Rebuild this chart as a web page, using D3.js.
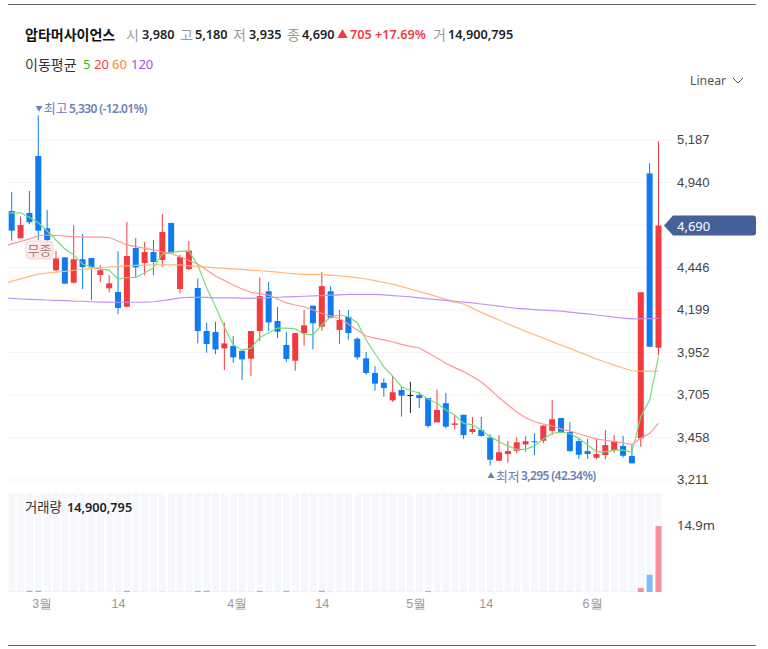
<!DOCTYPE html>
<html lang="ko">
<head>
<meta charset="utf-8">
<script src="https://cdn.jsdelivr.net/npm/d3@7"></script>
<style>
  body { margin: 0; background: #fff; }
  svg { display: block; font-family: "Noto Sans", "Noto Sans CJK KR", sans-serif; }
</style>
</head>
<body>
<div class="board"></div>
<script>
const opens = [
  4774, 4616, 4763, 5094, 4674, 4430, 4505, 4358, 4494, 4501,
  4402, 4325, 4304, 4218, 4559, 4472, 4536, 4490, 4705, 4321,
  4437, 4327, 4077, 4071, 3976, 3990, 3962, 3916, 4077, 4308,
  4135, 3996, 3904, 4064, 4224, 4102, 4308, 4083, 4160, 4032,
  3918, 3833, 3776, 3674, 3734, 3705, 3705, 3687, 3546, 3657,
  3531, 3590, 3490, 3502, 3457, 3323, 3362, 3381, 3418, 3436,
  3439, 3497, 3571, 3490, 3437, 3379, 3340, 3356, 3385, 3409,
  3350, 3453, 4993, 3980
]
const highs = [
  4885, 4741, 4891, 5330, 4780, 4542, 4505, 4691, 4641, 4501,
  4460, 4402, 4540, 4710, 4617, 4594, 4606, 4757, 4705, 4519,
  4600, 4383, 4125, 4131, 4125, 4048, 3962, 4077, 4389, 4362,
  4216, 4071, 4065, 4199, 4224, 4420, 4338, 4199, 4199, 4040,
  3955, 3872, 3802, 3815, 3753, 3782, 3724, 3687, 3736, 3717,
  3590, 3590, 3577, 3577, 3477, 3472, 3437, 3459, 3465, 3482,
  3527, 3676, 3571, 3546, 3451, 3451, 3453, 3502, 3472, 3468,
  3414, 4302, 5052, 5180
]
const lows = [
  4602, 4616, 4697, 4606, 4577, 4422, 4352, 4352, 4321, 4257,
  4362, 4302, 4176, 4218, 4391, 4401, 4401, 4451, 4529, 4296,
  4431, 4005, 3951, 3942, 3850, 3893, 3792, 3815, 4019, 4077,
  4036, 3898, 3846, 3992, 3970, 4079, 4151, 4001, 4026, 3910,
  3823, 3730, 3695, 3664, 3579, 3600, 3629, 3515, 3546, 3511,
  3506, 3449, 3480, 3463, 3295, 3323, 3311, 3366, 3375, 3356,
  3424, 3472, 3486, 3375, 3333, 3333, 3331, 3331, 3370, 3341,
  3308, 3404, 3985, 3935
]
const closes = [
  4660, 4693, 4709, 4660, 4606, 4499, 4352, 4494, 4449, 4447,
  4430, 4354, 4211, 4513, 4447, 4536, 4478, 4652, 4529, 4507,
  4544, 4077, 4001, 3970, 4005, 3924, 3912, 4077, 4280, 4127,
  4073, 3914, 4065, 4110, 4122, 4338, 4154, 4141, 4065, 3924,
  3833, 3771, 3746, 3721, 3701, 3705, 3687, 3525, 3618, 3521,
  3540, 3472, 3507, 3467, 3329, 3372, 3379, 3430, 3436, 3430,
  3527, 3564, 3486, 3379, 3358, 3362, 3362, 3414, 3437, 3352,
  3308, 4302, 3985, 4690
]

// first value of each average sits one day before the first candle, under the left clip
const ma5 = [
  4760, 4763, 4764, 4738, 4706, 4658, 4606, 4554, 4519, 4466,
  4449, 4437, 4431, 4379, 4387, 4389, 4414, 4445, 4524, 4534,
  4540, 4542, 4461, 4327, 4219, 4100, 3996, 3967, 3976, 4040,
  4067, 4094, 4094, 4090, 4058, 4055, 4112, 4160, 4170, 4160,
  4125, 4025, 3946, 3868, 3815, 3753, 3731, 3717, 3682, 3657,
  3618, 3589, 3540, 3531, 3502, 3463, 3434, 3409, 3389, 3389,
  3409, 3449, 3482, 3490, 3481, 3453, 3414, 3375, 3375, 3385,
  3385, 3372, 3579, 3676, 3928
]
const ma20 = [
  4568, 4583, 4597, 4612, 4629, 4635, 4632, 4629, 4625, 4624,
  4623, 4622, 4620, 4600, 4577, 4567, 4557, 4548, 4536, 4527,
  4507, 4487, 4466, 4431, 4397, 4370, 4344, 4321, 4302, 4294,
  4286, 4263, 4240, 4228, 4218, 4199, 4180, 4164, 4150, 4118,
  4083, 4048, 4036, 4025, 4013, 3999, 3988, 3978, 3949, 3920,
  3889, 3864, 3841, 3812, 3780, 3737, 3690, 3647, 3606, 3573,
  3551, 3536, 3525, 3508, 3496, 3480, 3464, 3449, 3442, 3434,
  3426, 3418, 3453, 3482, 3540
]
const ma60 = [
  4347, 4366, 4380, 4394, 4407, 4414, 4419, 4424, 4430, 4436,
  4441, 4446, 4449, 4453, 4456, 4458, 4459, 4461, 4461, 4461,
  4461, 4456, 4452, 4448, 4444, 4441, 4438, 4435, 4431, 4427,
  4423, 4419, 4414, 4409, 4406, 4406, 4406, 4402, 4398, 4393,
  4386, 4379, 4370, 4359, 4349, 4335, 4321, 4306, 4293, 4277,
  4261, 4245, 4234, 4210, 4185, 4162, 4141, 4118, 4097, 4075,
  4055, 4036, 4015, 3994, 3976, 3955, 3935, 3914, 3897, 3879,
  3862, 3846, 3844, 3844, 3843
]
const ma120 = [
  4269, 4266, 4263, 4261, 4259, 4257, 4255, 4254, 4251, 4250,
  4247, 4245, 4245, 4244, 4244, 4244, 4245, 4247, 4254, 4261,
  4269, 4273, 4272, 4272, 4270, 4270, 4269, 4268, 4267, 4269,
  4271, 4273, 4275, 4277, 4279, 4281, 4282, 4285, 4287, 4290,
  4290, 4290, 4290, 4287, 4283, 4279, 4275, 4269, 4264, 4259,
  4255, 4250, 4245, 4240, 4234, 4228, 4221, 4215, 4209, 4205,
  4201, 4198, 4195, 4193, 4187, 4181, 4176, 4170, 4164, 4158,
  4152, 4147, 4148, 4149, 4151
]

const volumes = [
  32000, 28000, 270000, 290000, 41000, 26000, 30000, 38000, 24000, 27000,
  22000, 19000, 35000, 260000, 44000, 26000, 21000, 48000, 37000, 33000,
  29000, 270000, 265000, 36000, 31000, 27000, 33000, 42000, 255000, 47000,
  30000, 260000, 39000, 26000, 29000, 280000, 46000, 31000, 28000, 34000,
  36000, 29000, 24000, 27000, 22000, 25000, 20000, 250000, 30000, 33000,
  21000, 31000, 20000, 23000, 38000, 27000, 19000, 22000, 18000, 20000,
  29000, 41000, 30000, 34000, 25000, 17000, 19000, 26000, 24000, 21000,
  35000, 900000, 3900000, 14900795
]
const volumeRedOverride = [2]

const gridTicks = [5187, 4940, 4693, 4446, 4199, 3952, 3705, 3458, 3211]
// 4,693 has no label of its own, the price tag covers it
const priceTicks = [5187, 4940, 4446, 4199, 3952, 3705, 3458, 3211]
const monthTicks = [3.4, 12, 25.4, 35, 45.6, 53.5, 65.5]
const monthLabels = ["3월", "14", "4월", "14", "5월", "14", "6월"]

const maSeries = [
  { name: "5", values: ma5, line: "#78dd79", legend: "#21c521" },
  { name: "20", values: ma20, line: "#ff9494", legend: "#f5414d" },
  { name: "60", values: ma60, line: "#ffb877", legend: "#f58a2e" },
  { name: "120", values: ma120, line: "#c692f7", legend: "#a44df2" }
]

const RED = "#f23a3f"
const BLUE = "#0e7bf0"
const WIDTH = 768
const HEIGHT = 649
const LEFT = 8

let svg = d3.select(".board").append("svg")
  .attr("width", WIDTH)
  .attr("height", HEIGHT)

let x = d3.scaleLinear().domain([0, opens.length - 1]).range([11.7, 658.5])
let y = d3.scaleLinear().domain([3211, 5187]).range([480, 140])
let yVolume = d3.scaleLinear().domain([0, 14900795]).range([592, 526])

const fmt = d3.format(",")

svg.append("clipPath").attr("id", "plot")
  .append("rect")
  .attr("x", LEFT).attr("y", 90)
  .attr("width", 664 - LEFT).attr("height", 400)

function candleColor(i) {
  if (closes[i] === opens[i]) return "#222"
  return closes[i] > opens[i] ? RED : BLUE
}

function drawFrame() {
  svg.selectAll(".rule")
    .data([4.5, 645.5])
    .enter().append("line")
    .attr("class", "rule")
    .attr("x1", LEFT).attr("x2", 756)
    .attr("y1", d => d).attr("y2", d => d)
    .attr("stroke", "#5f6670")
}

function drawHeader() {
  let head = svg.append("g").style("font-size", "12.7px")
  const put = (xPos, yPos, str, fill, weight, size) => head.append("text")
    .attr("x", xPos).attr("y", yPos)
    .attr("dominant-baseline", "central")
    .attr("fill", fill)
    .attr("font-weight", weight || 400)
    .style("font-size", size || null)
    .text(str)

  const last = opens.length - 1
  const KO = "14px"
  put(25, 34, "압타머사이언스", "#111", 700, KO)
  put(126, 34, "시", "#999", 400, KO)
  put(142, 34, fmt(opens[last]), "#222", 600)
  put(180, 34, "고", "#999", 400, KO)
  put(195, 34, fmt(highs[last]), "#222", 600)
  put(233, 34, "저", "#999", 400, KO)
  put(249, 34, fmt(lows[last]), "#222", 600)
  put(287, 34, "종", "#999", 400, KO)
  put(302, 34, fmt(closes[last]), "#222", 600)
  head.append("path")
    .attr("d", d3.symbol(d3.symbolTriangle, 46))
    .attr("transform", "translate(342.5,35)")
    .attr("fill", RED)
  put(350, 34, fmt(closes[last] - closes[last - 1]), RED, 600)
  put(375, 34, "+" + ((closes[last] / closes[last - 1] - 1) * 100).toFixed(2) + "%", RED, 600)
  put(433, 34, "거", "#999", 400, KO)
  put(448, 34, fmt(volumes[last]), "#222", 600)

  put(25, 64, "이동평균", "#333", 400, KO)
  let legendX = [83, 94, 112, 131]
  maSeries.forEach((s, i) => put(legendX[i], 64, s.name, s.legend, 400, "13px"))

  put(690, 80, "Linear", "#555", 400, "12.3px")
  svg.append("path")
    .attr("d", "M733,78 L738,83 L743,78")
    .attr("fill", "none")
    .attr("stroke", "#555")
}

function drawGrid() {
  svg.append("g").selectAll("line")
    .data(gridTicks)
    .enter().append("line")
    .attr("x1", LEFT).attr("x2", 672)
    .attr("y1", d => y(d)).attr("y2", d => y(d))
    .attr("stroke", "#f4f5f7")

  let axis = d3.axisRight(y)
    .tickValues(priceTicks)
    .tickSize(0)
    .tickPadding(0)
    .tickFormat(fmt)
  let g = svg.append("g").attr("transform", "translate(677,-0.5)").call(axis)
  g.select(".domain").remove()
  g.selectAll("text")
    .attr("font-family", null)
    .style("font-size", "13px")
    .attr("fill", "#444")
}

function drawCandles() {
  let plot = svg.append("g").attr("clip-path", "url(#plot)")
  let candles = plot.selectAll(".candle")
    .data(d3.range(opens.length))
    .enter().append("g")
    .attr("class", "candle")

  candles.append("line")
    .attr("x1", i => x(i)).attr("x2", i => x(i))
    .attr("y1", i => y(highs[i])).attr("y2", i => y(lows[i]))
    .attr("stroke", candleColor)
    .attr("stroke-width", 1)

  candles.append("rect")
    .attr("x", i => x(i) - 3)
    .attr("width", 6)
    .attr("y", i => y(Math.max(opens[i], closes[i])))
    .attr("height", i => Math.max(1, Math.abs(y(opens[i]) - y(closes[i]))))
    .attr("fill", candleColor)

  let line = d3.line()
    .x((d, i) => x(i - 1))
    .y(d => y(d))

  plot.selectAll(".ma")
    .data(maSeries)
    .enter().append("path")
    .attr("class", "ma")
    .attr("fill", "none")
    .attr("stroke", d => d.line)
    .attr("stroke-width", 1.2)
    .attr("d", d => line(d.values))
}

function drawMarkers() {
  const hi = d3.max(highs)
  const lo = d3.min(lows)
  const now = closes[closes.length - 1]
  const ink = "#6b80b8"

  let notes = svg.append("g").style("font-size", "12px").attr("fill", ink)

  notes.append("path")
    .attr("d", d3.symbol(d3.symbolTriangle, 20))
    .attr("transform", `translate(39,${y(hi) - 7.5}) rotate(180)`)
  notes.append("text").attr("x", 44).attr("y", y(hi) - 7)
    .attr("dominant-baseline", "central")
    .style("font-size", "12.8px")
    .text("최고")
  notes.append("text").attr("x", 69).attr("y", y(hi) - 7)
    .attr("dominant-baseline", "central")
    .attr("font-weight", 600)
    .attr("letter-spacing", "-0.6")
    .text(`${fmt(hi)} (${((now / hi - 1) * 100).toFixed(2)}%)`)

  notes.append("path")
    .attr("d", d3.symbol(d3.symbolTriangle, 20))
    .attr("transform", `translate(491,${y(lo) + 10.5})`)
  notes.append("text").attr("x", 496).attr("y", y(lo) + 10)
    .attr("dominant-baseline", "central")
    .style("font-size", "12.8px")
    .text("최저")
  notes.append("text").attr("x", 521).attr("y", y(lo) + 10)
    .attr("dominant-baseline", "central")
    .attr("font-weight", 600)
    .attr("letter-spacing", "-0.6")
    .text(`${fmt(lo)} (${((now / lo - 1) * 100).toFixed(2)}%)`)

  // stock dividend badge, sits over the candles
  svg.append("rect")
    .attr("x", 26).attr("y", 241)
    .attr("width", 27).attr("height", 18)
    .attr("rx", 4)
    .attr("fill", "#fbe8e8")
    .attr("fill-opacity", 0.85)
    .attr("stroke", "#f7d5d5")
  svg.append("text")
    .attr("x", 39.5).attr("y", 250)
    .attr("text-anchor", "middle")
    .attr("dominant-baseline", "central")
    .style("font-size", "13px")
    .attr("fill", "#b07a7a")
    .text("무종")

  // current price tag
  const tagY = y(now)
  svg.append("path")
    .attr("d", `M664,${tagY} L673,${tagY - 10} H753 Q756,${tagY - 10} 756,${tagY - 7} V${tagY + 7} Q756,${tagY + 10} 753,${tagY + 10} H673 Z`)
    .attr("fill", "#46609a")
  svg.append("text")
    .attr("x", 677).attr("y", tagY)
    .attr("dominant-baseline", "central")
    .style("font-size", "13px")
    .attr("fill", "#fff")
    .text(fmt(now))
}

function drawVolume() {
  let g = svg.append("g")

  g.selectAll(".band")
    .data(d3.range(volumes.length))
    .enter().append("rect")
    .attr("class", "band")
    .attr("x", i => x(i) - 3.3)
    .attr("width", 7)
    .attr("y", 493)
    .attr("height", 99)
    .attr("fill", "#f6f8fc")

  g.selectAll(".vol")
    .data(volumes)
    .enter().append("rect")
    .attr("class", "vol")
    .attr("x", (d, i) => x(i) - 3)
    .attr("width", 6)
    .attr("y", d => yVolume(d))
    .attr("height", d => yVolume(0) - yVolume(d))
    .attr("fill", (d, i) => (volumeRedOverride.includes(i) || closes[i] > opens[i]) ? "#f59299" : "#84bcfb")

  let title = svg.append("g")
  title.append("text").attr("x", 25).attr("y", 507)
    .attr("dominant-baseline", "central")
    .style("font-size", "13.3px")
    .attr("fill", "#333")
    .text("거래량")
  title.append("text").attr("x", 67).attr("y", 507)
    .attr("dominant-baseline", "central")
    .style("font-size", "12.7px")
    .attr("fill", "#222")
    .attr("font-weight", 600)
    .text(fmt(volumes[volumes.length - 1]))

  svg.append("text")
    .attr("x", 677).attr("y", yVolume(14900795) - 1)
    .attr("dominant-baseline", "central")
    .style("font-size", "13px")
    .attr("fill", "#444")
    .text("14.9m")
}

function drawMonths() {
  let axis = d3.axisBottom(x)
    .tickValues(monthTicks)
    .tickSize(0)
    .tickPadding(0)
    .tickFormat((d, i) => monthLabels[i])
  let g = svg.append("g").attr("transform", "translate(0,599)").call(axis)
  g.select(".domain").remove()
  g.selectAll("text")
    .attr("font-family", null)
    .style("font-size", "12.5px")
    .attr("fill", "#999")
}

drawFrame()
drawHeader()
drawGrid()
drawVolume()
drawMonths()
drawCandles()
drawMarkers()
</script>
</body>
</html>
